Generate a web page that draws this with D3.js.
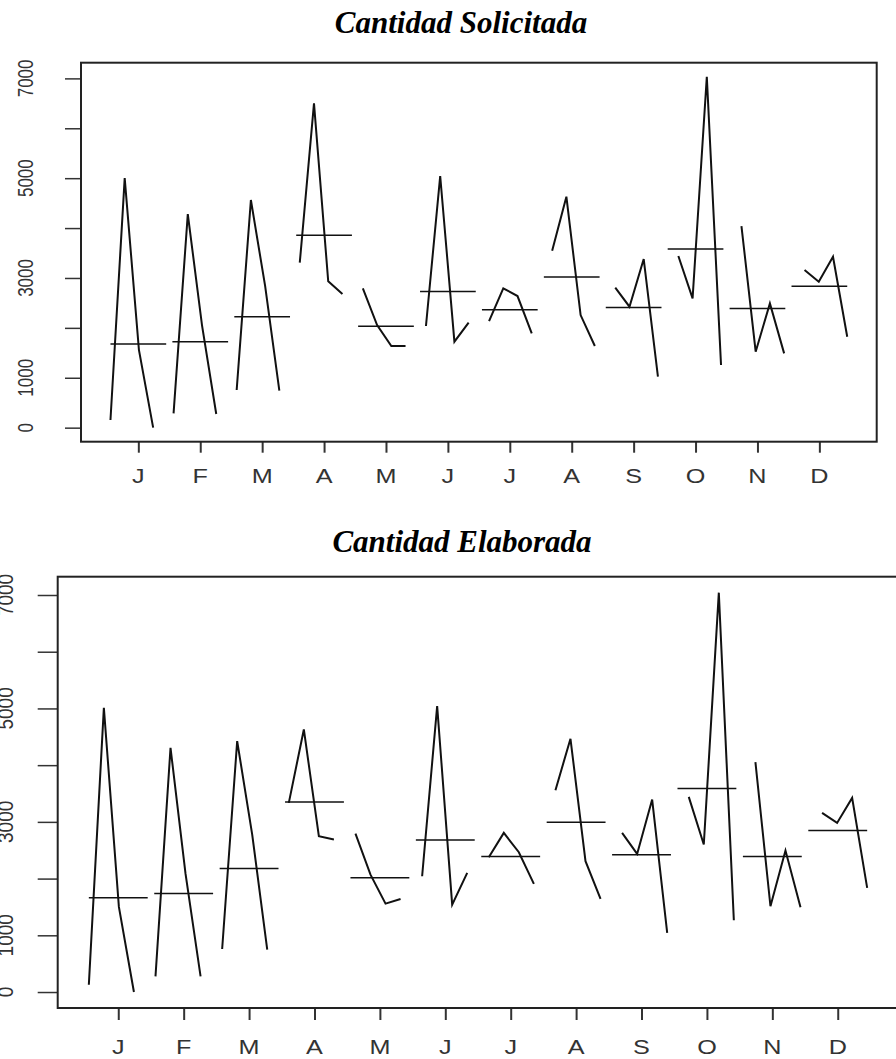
<!DOCTYPE html>
<html>
<head>
<meta charset="utf-8">
<script src="https://cdn.jsdelivr.net/npm/d3@7/dist/d3.min.js"></script>
<style>
  html, body { margin: 0; padding: 0; background: #fff; }
  svg { display: block; }
</style>
</head>
<body>
<svg id="chart" width="896" height="1059"></svg>
<script>
const monthLabels = ["J", "F", "M", "A", "M", "J", "J", "A", "S", "O", "N", "D"];
const nYears = 4;
// values per month, one entry per year (4 years)
const solicitada = [
  [154, 5000, 1560, 0],
  [287, 4281, 2050, 274],
  [755, 4562, 2840, 741],
  [3306, 6499, 2933, 2678],
  [2792, 2057, 1636, 1636],
  [2037, 5043, 1723, 2104],
  [2137, 2792, 2638, 1890],
  [3547, 4628, 2257, 1636],
  [2805, 2424, 3380, 1022],
  [3440, 2591, 7033, 1256],
  [4041, 1523, 2491, 1489],
  [3159, 2925, 3426, 1823]
];
const elaborada = [
  [129, 5011, 1500, 0],
  [276, 4306, 2082, 276],
  [759, 4423, 2777, 747],
  [3335, 4629, 2747, 2688],
  [2794, 2070, 1559, 1641],
  [2041, 5041, 1541, 2100],
  [2376, 2806, 2465, 1906],
  [3559, 4465, 2306, 1641],
  [2806, 2435, 3394, 1041],
  [3441, 2600, 7041, 1265],
  [4053, 1512, 2494, 1494],
  [3159, 2982, 3423, 1835]
];
const yTicks = [0, 1000, 2000, 3000, 4000, 5000, 6000, 7000];
const yTickLabels = [0, 1000, 3000, 5000, 7000];
const titles = ["Cantidad Solicitada", "Cantidad Elaborada"];

// ---- layout ----
const panels = [
  { data: solicitada, title: titles[0], titleX: 461, titleY: 33, titleSize: 31,
    left: 81, right: 876.7, top: 62.7, bottom: 441.7,
    yTickLen: 16, xTickLen: 11, yLabX: 33, yLabSize: 17, yLabScale: 1.25,
    xLabY: 482.5, xLabSize: 21 },
  { data: elaborada, title: titles[1], titleX: 462, titleY: 552, titleSize: 31,
    left: 57.7, right: 898.3, top: 576.7, bottom: 1008,
    yTickLen: 20, xTickLen: 12, yLabX: 13, yLabSize: 19, yLabScale: 1.18,
    xLabY: 1053.5, xLabSize: 21 }
];

const svg = d3.select("#chart");
const nMonths = monthLabels.length;
const nTimes = nMonths * nYears;

panels.forEach(p => {
  const g = svg.append("g");
  const all = p.data.flat();
  const ext = d3.extent(all);
  const yPad = (ext[1] - ext[0]) * 0.04;
  const xlim = [1 - 0.45, nMonths + 0.45];
  const xPad = (xlim[1] - xlim[0]) * 0.04;

  const x = d3.scaleLinear().domain([xlim[0] - xPad, xlim[1] + xPad]).range([p.left, p.right]);
  const y = d3.scaleLinear().domain([ext[0] - yPad, ext[1] + yPad]).range([p.bottom, p.top]);

  // title
  g.append("text")
    .attr("x", p.titleX).attr("y", p.titleY)
    .attr("text-anchor", "middle")
    .attr("font-family", "'Liberation Serif', 'Times New Roman', serif")
    .attr("font-style", "italic").attr("font-weight", "bold")
    .attr("font-size", p.titleSize)
    .attr("fill", "#000")
    .text(p.title);

  // sub-series lines (R monthplot layout)
  const line = d3.line().x(d => x(d[0])).y(d => y(d[1]));
  p.data.forEach((vals, i) => {
    const m = i + 1;
    const pts = vals.map((v, k) => {
      const t = i + nMonths * k;
      return [m - 0.45 + 0.9 * t / (nTimes - 1), v];
    });
    g.append("path")
      .attr("d", line(pts))
      .attr("fill", "none")
      .attr("stroke", "#111")
      .attr("stroke-width", 2)
      .attr("stroke-linejoin", "miter");
    const base = d3.mean(vals);
    g.append("line")
      .attr("x1", x(m - 0.45)).attr("x2", x(m + 0.45))
      .attr("y1", y(base)).attr("y2", y(base))
      .attr("stroke", "#111").attr("stroke-width", 1.5);
  });

  // y axis ticks
  const yAxis = d3.axisLeft(y).tickValues(yTicks).tickSize(p.yTickLen).tickSizeOuter(0).tickFormat("");
  const ya = g.append("g").attr("transform", `translate(${p.left},0)`).call(yAxis);
  ya.select(".domain").remove();
  ya.selectAll(".tick line").attr("stroke", "#333").attr("stroke-width", 1.5);

  yTickLabels.forEach(v => {
    g.append("text")
      .attr("transform", `translate(${p.yLabX},${y(v)}) scale(${p.yLabScale},1) rotate(-90)`)
      .attr("text-anchor", "middle")
      .attr("font-family", "'Liberation Sans', Arial, sans-serif")
      .attr("font-size", p.yLabSize)
      .attr("fill", "#333")
      .text(v);
  });

  // x axis ticks
  const xAxis = d3.axisBottom(x).tickValues(d3.range(1, nMonths + 1)).tickSize(p.xTickLen).tickSizeOuter(0).tickFormat("");
  const xa = g.append("g").attr("transform", `translate(0,${p.bottom})`).call(xAxis);
  xa.select(".domain").remove();
  xa.selectAll(".tick line").attr("stroke", "#333").attr("stroke-width", 2);

  monthLabels.forEach((lab, i) => {
    g.append("text")
      .attr("transform", `translate(${x(i + 1)},${p.xLabY}) scale(1.2,1)`)
      .attr("text-anchor", "middle")
      .attr("font-family", "'Liberation Sans', Arial, sans-serif")
      .attr("font-size", p.xLabSize)
      .attr("fill", "#333")
      .text(lab);
  });

  // box
  g.append("rect")
    .attr("x", p.left).attr("y", p.top)
    .attr("width", p.right - p.left).attr("height", p.bottom - p.top)
    .attr("fill", "none").attr("stroke", "#222").attr("stroke-width", 2);
});
</script>
</body>
</html>
